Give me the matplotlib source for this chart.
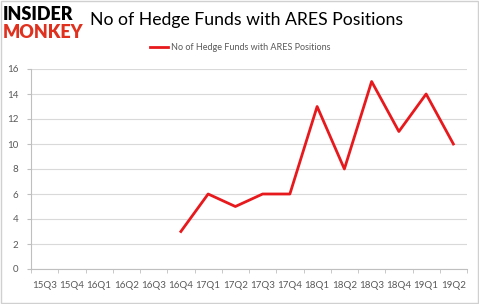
import matplotlib
matplotlib.use("Agg")
import matplotlib.pyplot as plt
from matplotlib.patches import Rectangle

# Chart data
quarters = ["15Q3", "15Q4", "16Q1", "16Q2", "16Q3", "16Q4", "17Q1", "17Q2",
            "17Q3", "17Q4", "18Q1", "18Q2", "18Q3", "18Q4", "19Q1", "19Q2"]
funds_quarters = ["16Q4", "17Q1", "17Q2", "17Q3", "17Q4", "18Q1",
                  "18Q2", "18Q3", "18Q4", "19Q1", "19Q2"]
funds = [3, 6, 5, 6, 6, 13, 8, 15, 11, 14, 10]
y_ticks = [0, 2, 4, 6, 8, 10, 12, 14, 16]

TITLE = "No of Hedge Funds with ARES Positions"
LINE_COLOR = "#e8191d"
TEXT_GRAY = "#595959"
GRID_GRAY = "#d9d9d9"

plt.rcParams["font.family"] = ["Lato", "DejaVu Sans"]

fig = plt.figure(figsize=(4.79, 3.04), dpi=100)
ax = fig.add_axes([31 / 479, 1 - 269 / 304, 436 / 479, 200 / 304])

xs = [quarters.index(q) for q in funds_quarters]
ax.plot(xs, funds, color=LINE_COLOR, linewidth=2.0, label=TITLE)

ax.set_xlim(-0.5, len(quarters) - 0.5)
ax.set_ylim(0, 16)
ax.set_yticks(y_ticks)
ax.set_xticks(range(len(quarters)))
ax.set_xticklabels(quarters)
ax.set_xticks([i - 0.5 for i in range(len(quarters) + 1)], minor=True)

ax.grid(axis="y", color=GRID_GRAY, linewidth=0.8)
ax.set_axisbelow(True)
for side in ["top", "right"]:
    ax.spines[side].set_visible(False)
for side in ["left", "bottom"]:
    ax.spines[side].set_color("#bfbfbf")
    ax.spines[side].set_linewidth(0.8)

ax.tick_params(axis="x", which="major", length=0, labelsize=7, labelcolor=TEXT_GRAY, pad=9)
ax.tick_params(axis="x", which="minor", length=3, color="#bfbfbf")
ax.tick_params(axis="y", length=3, color="#bfbfbf", labelsize=7, labelcolor=TEXT_GRAY, pad=6)

# title and legend
fig.text(90 / 479, 1 - 20 / 304, TITLE, fontsize=12.7, color="black", va="center", ha="left")
ax.legend(loc="center", bbox_to_anchor=(0.48, (48 - 69) / -200 + 1), frameon=False,
          fontsize=6.5, labelcolor=TEXT_GRAY, handlelength=2.0, handletextpad=0.4)

# logo
fig.text(3 / 479, 1 - 15 / 304, "INSIDER", fontsize=13, fontweight="heavy",
         color="black", va="center", ha="left")
fig.text(3 / 479, 1 - 32 / 304, "MONKEY", fontsize=13, fontweight="heavy",
         color="#e0301e", va="center", ha="left")

# figure border
fig.patches.append(Rectangle((0.002, 0.003), 0.995, 0.994, transform=fig.transFigure,
                             fill=False, edgecolor="#d0d0d0", linewidth=1.0))

fig.savefig("out.png", dpi=100)
